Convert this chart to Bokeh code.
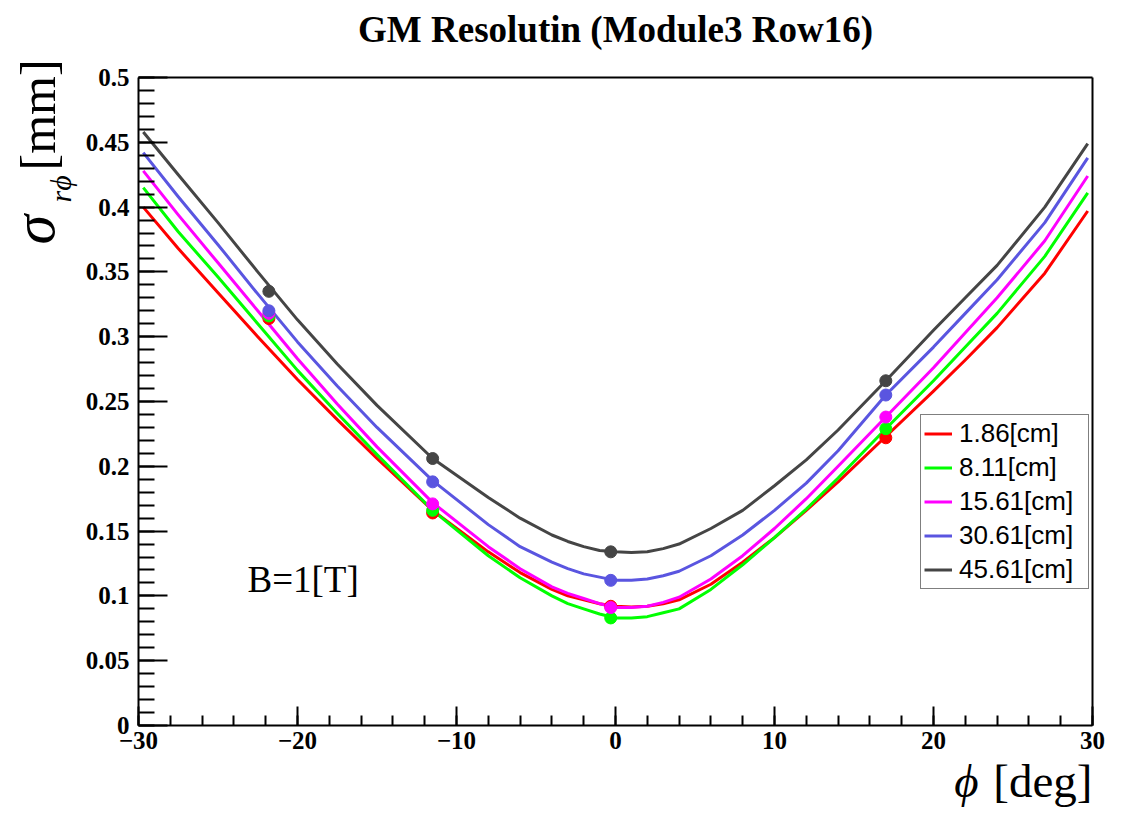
import math
from bokeh.plotting import figure
from bokeh.models import (Range1d, SingleIntervalTicker, FixedTicker, NumeralTickFormatter,
                          CustomJSTickFormatter, Label, Legend, LegendItem, LinearAxis)
from bokeh.embed import file_html
from bokeh.resources import INLINE

# ---------------- data ----------------
title_text = "GM Resolutin (Module3 Row16)"
series_labels = ["1.86[cm]", "8.11[cm]", "15.61[cm]", "30.61[cm]", "45.61[cm]"]
series_colors = ["#ff0000", "#00ff00", "#ff00ff", "#5a55e0", "#454545"]

# measured points
phi_pts = [-21.8, -11.5, -0.3, 17.0]
pts_186 = [0.314, 0.164, 0.092, 0.222]
pts_811 = [0.316, 0.166, 0.083, 0.229]
pts_1561 = [0.318, 0.171, 0.091, 0.238]
pts_3061 = [0.320, 0.188, 0.112, 0.255]
pts_4561 = [0.335, 0.206, 0.134, 0.266]

# fitted curves
phi_fit = [-29.7, -27.5, -25, -22.5, -20, -17.5, -15, -11.5, -8, -6, -4, -3, -2, -1, 0,
           1, 2, 3, 4, 6, 8, 10, 12, 14, 17, 20, 22, 24, 27, 29.7]
fit_186 = [0.400, 0.368, 0.334, 0.300, 0.267, 0.236, 0.206, 0.166, 0.134, 0.118, 0.105, 0.100, 0.097, 0.094, 0.092,
           0.0915, 0.092, 0.094, 0.097, 0.109, 0.126, 0.145, 0.166, 0.188, 0.223, 0.258, 0.282, 0.307, 0.349, 0.397]
fit_811 = [0.415, 0.381, 0.346, 0.310, 0.274, 0.241, 0.209, 0.166, 0.131, 0.114, 0.100, 0.094, 0.090, 0.086, 0.083,
           0.083, 0.084, 0.087, 0.090, 0.105, 0.124, 0.145, 0.167, 0.191, 0.229, 0.266, 0.292, 0.318, 0.362, 0.411]
fit_1561 = [0.428, 0.394, 0.357, 0.320, 0.283, 0.248, 0.215, 0.172, 0.138, 0.121, 0.107, 0.102, 0.098, 0.094, 0.091,
            0.091, 0.092, 0.095, 0.099, 0.113, 0.131, 0.152, 0.175, 0.200, 0.238, 0.276, 0.303, 0.330, 0.374, 0.424]
fit_3061 = [0.442, 0.408, 0.371, 0.333, 0.296, 0.262, 0.230, 0.189, 0.155, 0.138, 0.126, 0.121, 0.117, 0.1145, 0.112,
            0.112, 0.113, 0.1155, 0.119, 0.131, 0.147, 0.166, 0.187, 0.212, 0.255, 0.292, 0.318, 0.344, 0.388, 0.438]
fit_4561 = [0.458, 0.425, 0.388, 0.350, 0.313, 0.279, 0.247, 0.206, 0.176, 0.160, 0.147, 0.142, 0.138, 0.135, 0.134,
            0.1335, 0.134, 0.1365, 0.140, 0.152, 0.166, 0.185, 0.205, 0.228, 0.266, 0.305, 0.330, 0.355, 0.400, 0.449]

pts_all = [pts_186, pts_811, pts_1561, pts_3061, pts_4561]
fit_all = [fit_186, fit_811, fit_1561, fit_3061, fit_4561]

x_lo, x_hi = -30, 30
y_lo, y_hi = 0.0, 0.5
x_ticks_interval = 10
y_ticks_interval = 0.05

# ---------------- layout (pixels) ----------------
W, H = 1106, 810
FL, FR, FT, FB = 138, 1092, 77, 725      # plot-box edges on the canvas
dx = (x_hi - x_lo) / (FR - FL)
dy = (y_hi - y_lo) / (FB - FT)
x_range = Range1d(x_lo - FL * dx, x_hi + (W - FR) * dx)
y_range = Range1d(y_lo - (H - FB) * dy, y_hi + FT * dy)

p = figure(width=W, height=H, output_backend="svg", toolbar_location=None,
           x_range=x_range, y_range=y_range,
           min_border_left=0, min_border_right=0, min_border_top=0, min_border_bottom=0)
p.title.visible = False
p.background_fill_color = "white"
p.border_fill_color = "white"
p.outline_line_color = None
p.xgrid.visible = False
p.ygrid.visible = False

serif = "Liberation Serif"
xa, ya = p.xaxis[0], p.yaxis[0]
xa.fixed_location = y_lo
ya.fixed_location = x_lo
xa.bounds = (x_lo, x_hi)
ya.bounds = (y_lo, y_hi)
for ax in (xa, ya):
    ax.axis_line_width = 2
    ax.axis_line_color = "black"
    ax.major_tick_line_width = 2
    ax.minor_tick_line_width = 2
    ax.major_tick_line_color = "black"
    ax.minor_tick_line_color = "black"
    ax.major_tick_out = 0
    ax.minor_tick_out = 0
    ax.major_label_text_font = serif
    ax.major_label_text_font_style = "bold"
    ax.major_label_text_font_size = "25px"
    ax.major_label_text_color = "black"

xa.ticker = SingleIntervalTicker(interval=x_ticks_interval, num_minor_ticks=5)
ya.ticker = SingleIntervalTicker(interval=y_ticks_interval, num_minor_ticks=5)
xa.major_tick_in = 19
xa.minor_tick_in = 10
ya.major_tick_in = 29
ya.minor_tick_in = 16
xa.major_label_standoff = 6
ya.major_label_standoff = 9
xa.formatter = CustomJSTickFormatter(
    code="return tick < 0 ? '\\u2212' + Math.abs(tick) : String(tick);")
ya.formatter = NumeralTickFormatter(format="0.[00]")

# top and right edges of the plot box
top_ax = LinearAxis(fixed_location=y_hi, bounds=(x_lo, x_hi), ticker=FixedTicker(ticks=[], minor_ticks=[]),
                    axis_line_width=2, axis_line_color="black")
right_ax = LinearAxis(fixed_location=x_hi, bounds=(y_lo, y_hi), ticker=FixedTicker(ticks=[], minor_ticks=[]),
                      axis_line_width=2, axis_line_color="black")
p.add_layout(top_ax, "above")
p.add_layout(right_ax, "right")

# curves and points
line_renderers = []
for fit, col in zip(fit_all, series_colors):
    r = p.line(phi_fit, fit, line_color=col, line_width=3, line_join="round")
    line_renderers.append(r)
for pts, col in zip(pts_all, series_colors):
    p.scatter(phi_pts, pts, size=12, fill_color=col, line_color=col, marker="circle")

legend = Legend(items=[LegendItem(label=l, renderers=[r]) for l, r in zip(series_labels, line_renderers)],
                location=(920, H - 589), orientation="vertical")
legend.label_text_font = "Liberation Sans"
legend.label_text_font_size = "26px"
legend.label_text_color = "black"
legend.glyph_width = 28
legend.glyph_height = 29
legend.label_height = 29
legend.label_width = 126
legend.label_standoff = 7
legend.spacing = 3
legend.padding = 3
legend.margin = 0
legend.border_line_color = "black"
legend.border_line_width = 1.5
legend.background_fill_color = "white"
legend.background_fill_alpha = 1
p.add_layout(legend, "center")


def lab(x, y, text, size, style="normal", align="left", angle=0.0):
    # x, y in canvas pixels measured from the top-left corner
    return Label(x=x, y=H - y, x_units="screen", y_units="screen", text=text, angle=angle,
                 text_font=serif, text_font_style=style, text_font_size=size,
                 text_align=align, text_baseline="alphabetic", text_color="black")


# title
p.add_layout(lab(615, 29, title_text, "37px", "bold", "center"))
# B field label
p.add_layout(lab(247, 579, "B=1[T]", "37px"))
# y-axis label pieces (rotated)
ang = math.pi / 2
p.add_layout(lab(33, 244, "σ", "60px", "italic", "left", ang))
p.add_layout(lab(60, 202, "rϕ", "30px", "italic", "left", ang))
p.add_layout(lab(37, 170, "[mm]", "50px", "normal", "left", ang))
# x-axis label pieces
p.add_layout(lab(1092, 780, "[deg]", "47px", "normal", "right"))
p.add_layout(lab(978, 780, "ϕ", "47px", "italic", "right"))

open("out.html", "w").write(file_html(p, INLINE))
